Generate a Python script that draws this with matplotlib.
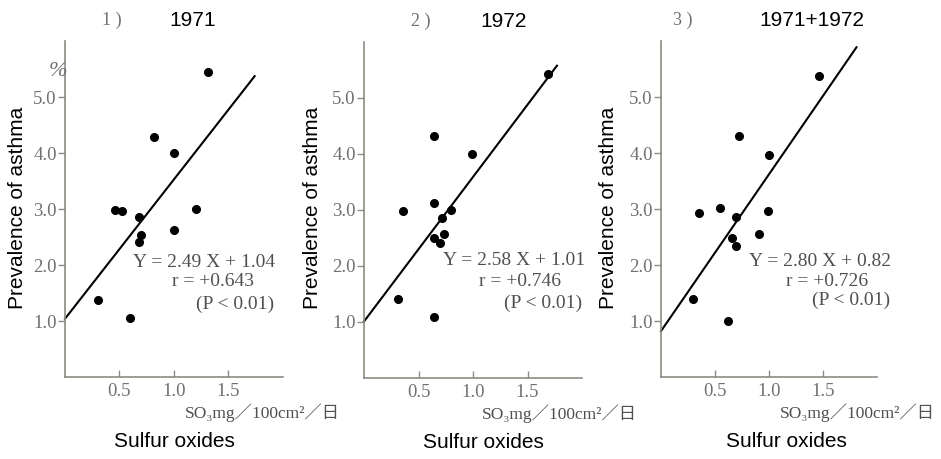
import matplotlib
matplotlib.use('Agg')
import matplotlib.pyplot as plt
import numpy as np

# sulfur oxides (SO3 mg/100cm2/day) vs prevalence of asthma (%)
x_1971 = [1.31, 0.82, 1.00, 0.46, 0.52, 0.68, 1.20, 1.00, 0.68, 0.70, 0.30, 0.60]
y_1971 = [5.45, 4.29, 4.00, 2.98, 2.97, 2.86, 3.00, 2.62, 2.41, 2.53, 1.37, 1.05]

x_1972 = [1.69, 0.64, 0.99, 0.36, 0.64, 0.80, 0.72, 0.64, 0.70, 0.73, 0.31, 0.64]
y_1972 = [5.43, 4.32, 4.00, 2.98, 3.12, 3.00, 2.85, 2.50, 2.41, 2.57, 1.41, 1.09]

x_both = [1.46, 0.72, 1.00, 0.35, 0.55, 0.69, 0.99, 0.66, 0.69, 0.91, 0.30, 0.62]
y_both = [5.38, 4.30, 3.96, 2.93, 3.02, 2.86, 2.96, 2.48, 2.34, 2.55, 1.39, 1.00]

titles = ['1971', '1972', '1971+1972']
numbers = ['1 )', '2 )', '3 )']
slopes = [2.49, 2.58, 2.80]
intercepts = [1.04, 1.01, 0.82]
r_values = [0.643, 0.746, 0.726]
line_end = [1.74, 1.77, 1.81]

yticks = [1.0, 2.0, 3.0, 4.0, 5.0]
xticks = [0.5, 1.0, 1.5]

GRAY = '#707070'
AXIS = '#8c8c84'
SERIF = 'Liberation Serif'
SANS = 'Liberation Sans'

W, H = 941, 459
fig = plt.figure(figsize=(W / 100.0, H / 100.0), dpi=100)

# axes rectangles in pixels: left (x=0), right (x=2), bottom (y=0), top (y=6)
boxes = [(65, 283, 377, 41), (364, 582, 378, 42), (661, 877, 377, 41)]
# per panel text positions (data coords for fit text, axes fraction for the rest)
eq_pos = [[(1.28, 2.05), (1.36, 1.70), (1.56, 1.29)],
          [(1.38, 2.09), (1.43, 1.73), (1.64, 1.34)],
          [(1.47, 2.07), (1.54, 1.71), (1.76, 1.36)]]
title_x = [0.587, 0.642, 0.70]
num_x = [0.216, 0.261, 0.10]
unit_x = [0.55, 0.54, 0.55]
xlab_x = [0.50, 0.546, 0.58]
ylab_px = [18, 312, 609]

data = [(x_1971, y_1971), (x_1972, y_1972), (x_both, y_both)]

for i in range(3):
    l, r, b, t = boxes[i]
    ax = fig.add_axes([l / float(W), 1 - b / float(H), (r - l) / float(W), (b - t) / float(H)])
    ax.set_xlim(0, 2.0)
    ax.set_ylim(0, 6.0)
    for s in ['top', 'right']:
        ax.spines[s].set_visible(False)
    for s in ['left', 'bottom']:
        ax.spines[s].set_color(AXIS)
        ax.spines[s].set_linewidth(1.2)
    ax.set_xticks(xticks)
    ax.set_xticklabels(['%.1f' % v for v in xticks])
    ax.set_yticks(yticks)
    ax.set_yticklabels(['%.1f' % v for v in yticks])
    ax.tick_params(axis='x', direction='in', length=5, width=1, color=AXIS, pad=4,
                   labelsize=13.5, labelcolor=GRAY)
    ax.tick_params(axis='y', direction='out', length=5, width=1, color=AXIS, pad=1,
                   labelsize=13.5, labelcolor=GRAY)
    for lab in ax.get_xticklabels() + ax.get_yticklabels():
        lab.set_family(SERIF)

    xs, ys = data[i]
    ax.plot(xs, ys, 'o', color='black', ms=5.5, clip_on=False)

    fx = np.array([0.0, line_end[i]])
    ax.plot(fx, slopes[i] * fx + intercepts[i], color='black', lw=1.5, clip_on=False)

    texts = ['Y = %.2f X + %.2f' % (slopes[i], intercepts[i]),
             'r = +%.3f' % r_values[i],
             '(P < 0.01)']
    for (tx, ty), s in zip(eq_pos[i], texts):
        ax.text(tx, ty, s, ha='center', va='center', fontsize=14,
                family=SERIF, color='#505050')

    ax.text(title_x[i], 1.062, titles[i], transform=ax.transAxes, ha='center',
            va='center', fontsize=15, family=SANS, color='black')
    ax.text(num_x[i], 1.062, numbers[i], transform=ax.transAxes, ha='center',
            va='center', fontsize=13, family=SERIF, color=GRAY)
    ax.text(unit_x[i], -0.107, 'SO\u2083mg\uff0f100cm\u00b2\uff0f\u65e5', transform=ax.transAxes,
            ha='left', va='center', fontsize=12.5,
            family=[SERIF, 'Noto Sans CJK JP', 'DejaVu Sans'], color='#505050')
    ax.text(xlab_x[i], -0.193, 'Sulfur oxides', transform=ax.transAxes, ha='center',
            va='center', fontsize=15, family=SANS, color='black')

    fig.text(ylab_px[i] / float(W), 1 - 208 / float(H), 'Prevalence of asthma',
             rotation=90, ha='center', va='center', fontsize=15, family=SANS, color='black')

    if i == 0:
        ax.text(-0.06, 5.45, '%', ha='center', va='center', fontsize=16,
                family=SERIF, style='italic', color=GRAY)

fig.savefig('out.png', dpi=100)
